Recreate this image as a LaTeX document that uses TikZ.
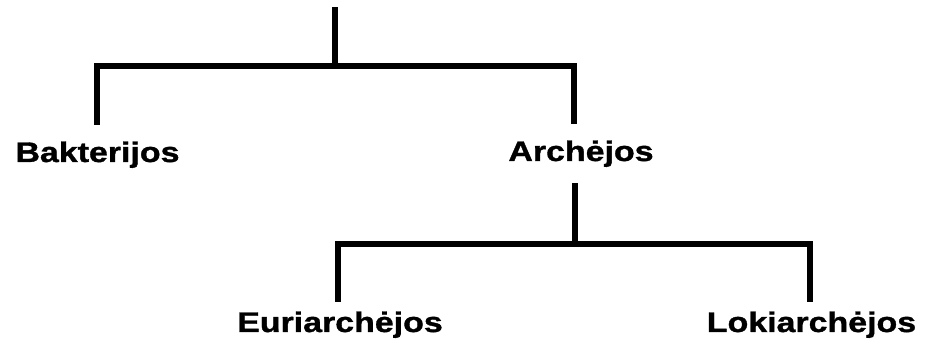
\documentclass[tikz,border=0pt]{standalone}
\usepackage{fontspec}
\setmainfont{Liberation Sans}[FakeStretch=1.2,BoldFeatures={FakeBold=1.2}]
\begin{document}
\begin{tikzpicture}[x=0.75pt,y=-0.75pt,
  branch/.style={draw=black,line width=4.5pt,line cap=butt,line join=miter},
  taxon/.style={anchor=base,inner sep=0pt,font=\fontsize{21.2pt}{25pt}\selectfont\bfseries}]
\useasboundingbox (0,0) rectangle (925,352);
% labels
\node[taxon] (bak) at (97.5,162) {Bakterijos};
\node[taxon] (arc) at (581,161) {Archėjos};
\node[taxon] (eur) at (340,332) {Euriarchėjos};
\node[taxon] (lok) at (811.5,332) {Lokiarchėjos};
% connector points
\coordinate (top) at (335,7);
\coordinate (j1) at (335,66);
\coordinate (bakEnd) at (97,125);
\coordinate (arcEnd) at (574,124);
\coordinate (arcTop) at (575,183);
\coordinate (j2) at (575,244);
\coordinate (eurEnd) at (337.5,302);
\coordinate (lokEnd) at (810,302);
% tree
\draw[branch] (top) -- (j1);
\draw[branch] (bakEnd) |- (j1) -| (arcEnd);
\draw[branch] (arcTop) -- (j2);
\draw[branch] (eurEnd) |- (j2) -| (lokEnd);
\end{tikzpicture}
\end{document}
